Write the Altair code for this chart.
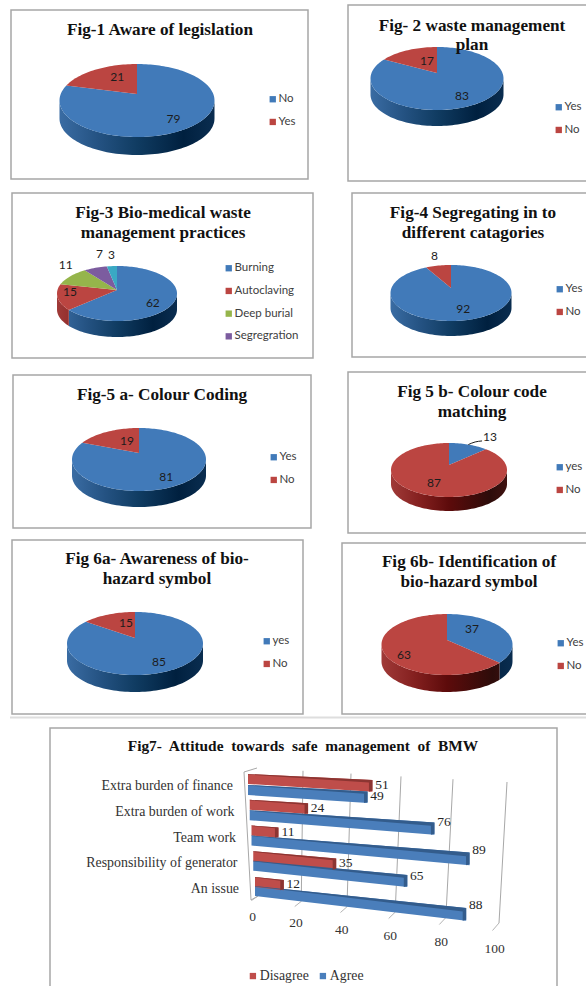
import math
import altair as alt
import pandas as pd

W, H = 586, 986

# ---- survey values ----
FIG1_CATS, FIG1_VALUES = ["No", "Yes"], [79, 21]
FIG2_CATS, FIG2_VALUES = ["Yes", "No"], [83, 17]
FIG3_CATS, FIG3_VALUES = ["Burning", "Autoclaving", "Deep burial", "Segregration", "Other"], [62, 15, 11, 7, 3]
FIG4_CATS, FIG4_VALUES = ["Yes", "No"], [92, 8]
FIG5A_CATS, FIG5A_VALUES = ["Yes", "No"], [81, 19]
FIG5B_CATS, FIG5B_VALUES = ["yes", "No"], [13, 87]
FIG6A_CATS, FIG6A_VALUES = ["yes", "No"], [85, 15]
FIG6B_CATS, FIG6B_VALUES = ["Yes", "No"], [37, 63]

FIG7_CATS = ["Extra burden of finance", "Extra burden of work", "Team work",
             "Responsibility of generator", "An issue"]
FIG7_DISAGREE = [51, 24, 11, 35, 12]
FIG7_AGREE = [49, 76, 89, 65, 88]
FIG7_TICKS = [0, 20, 40, 60, 80, 100]
# pixels per unit along each bar row, which narrows unevenly with the tilt
FIG7_ROW_UNIT = [2.44, 2.43, 2.45, 2.37, 2.40]

BLUE, RED, GREEN, PURPLE, CYAN = "#417ab9", "#bb4541", "#95b54b", "#7c5c9f", "#3aa9c4"
BLUE_WALL = [(0, "#3a6ca3"), (0.25, "#245282"), (0.5, "#103c62"), (0.8, "#00203f"), (1, "#0a2d50")]
RED_WALL = [(0, "#a03a38"), (0.25, "#84201f"), (0.5, "#5d0b0b"), (0.85, "#2d0c0a"), (1, "#401210")]
GREY_TEXT = "#404040"
SERIF = "Liberation Serif"
SANS = "Lato"

X = alt.X("x:Q", scale=alt.Scale(domain=[0, W], nice=False, zero=False), axis=None)
Y = alt.Y("y:Q", scale=alt.Scale(domain=[H, 0], nice=False, zero=False), axis=None)
layers = []


def frame_table():
    rows = [
        (11, 308, 10, 179), (348, 600, 5, 181), (12, 313, 193, 358), (352, 600, 193, 357),
        (13, 311, 375, 528), (348, 600, 372, 533), (12, 303, 540, 714), (342, 600, 543, 714),
        (50, 557, 728, 1000),
    ]
    return pd.DataFrame(rows, columns=["x", "x2", "y", "y2"])


layers.append(
    alt.Chart(pd.DataFrame({"x": [10], "x2": [600], "y": [717.5]}))
    .mark_rule(color="#dedede", strokeWidth=2)
    .encode(x=X, x2="x2:Q", y=Y)
)
layers.append(
    alt.Chart(frame_table())
    .mark_rect(fill="white", stroke="#a6a6a6", strokeWidth=1.5)
    .encode(x=X, x2="x2:Q", y=Y, y2="y2:Q")
)


class PieShape:
    """Tilted pie seen in perspective: a disc projected through a homography."""

    def __init__(self, cx, cy, half_w, top, face_bottom, wall_bottom):
        self.cx, self.cy = cx, cy
        far, near = cy - top, face_bottom - cy
        self.k = (near - far) / (near + far)
        self.b = far * (1 + self.k)
        self.a = half_w * math.sqrt(1 - self.k ** 2)
        self.half_w = half_w
        self.depth = wall_bottom - face_bottom

    def at(self, deg, r=1.0):
        t = math.radians(deg)
        u, v = r * math.sin(t), r * math.cos(t)
        w = 1 + self.k * v
        return self.cx + self.a * u / w, self.cy - self.b * v / w


def wedge_rows(shape, cats, values):
    rows, start = [], 0.0
    total = sum(values)
    for cat, val in zip(cats, values):
        end = start + 360 * val / total
        steps = max(2, int((end - start) / 2))
        outline = [(shape.cx, shape.cy)]
        outline += [shape.at(start + (end - start) * i / steps) for i in range(steps + 1)]
        for n, (px, py) in enumerate(outline):
            rows.append({"cat": cat, "n": n, "x": px, "y": py})
        start = end
    return pd.DataFrame(rows)


def wall_layers(shape, values, wall_colours):
    out = []
    limit = math.degrees(math.acos(-shape.k))
    start, total = 0.0, sum(values)
    left, right = shape.cx - shape.half_w, shape.cx + shape.half_w
    for val, stops in zip(values, wall_colours):
        end = start + 360 * val / total
        a0, a1 = max(start, limit), min(end, 360 - limit)
        if a1 > a0:
            steps = max(2, int((a1 - a0) / 2))
            rim = [shape.at(a0 + (a1 - a0) * i / steps) for i in range(steps + 1)]
            pts = rim + [(px, py + shape.depth) for px, py in reversed(rim)]
            xs = [p[0] for p in pts]
            lo, hi = min(xs), max(xs)
            grad = alt.Gradient(
                gradient="linear",
                x1=(left - lo) / (hi - lo), x2=(right - lo) / (hi - lo), y1=0, y2=0,
                stops=[alt.GradientStop(offset=o, color=c) for o, c in stops],
            )
            df = pd.DataFrame({"x": xs, "y": [p[1] for p in pts], "n": range(len(pts))})
            out.append(
                alt.Chart(df).mark_line(fill=grad, stroke="transparent", strokeWidth=0)
                .encode(x=X, y=Y, order="n:Q")
            )
        start = end
    return out


def add_pie(shape, cats, values, colours, walls, legend_x, legend_y, radial, nudges, rows=None):
    layers.extend(wall_layers(shape, values, walls))
    shown = rows if rows is not None else cats
    legend = alt.Legend(
        title=None, orient="none", legendX=legend_x, legendY=legend_y, symbolType="square",
        symbolSize=40, labelFont=SANS, labelFontSize=11.5, labelColor=GREY_TEXT,
        rowPadding=9.7, padding=0, values=shown, labelLimit=120, labelOffset=0,
    )
    layers.append(
        alt.Chart(wedge_rows(shape, cats, values))
        .mark_line(filled=True, strokeWidth=0)
        .encode(
            x=X, y=Y, order="n:Q",
            color=alt.Color("cat:N", scale=alt.Scale(domain=cats, range=colours), legend=legend),
        )
    )
    label_rows, start, total = [], 0.0, sum(values)
    for val, r, (dx, dy) in zip(values, radial, nudges):
        mid = start + 180 * val / total
        px, py = shape.at(mid, r)
        label_rows.append({"x": px + dx, "y": py + dy, "label": str(val)})
        start += 360 * val / total
    layers.append(
        alt.Chart(pd.DataFrame(label_rows))
        .mark_text(font=SANS, fontSize=12, color="#1c1c1c", baseline="middle", align="center")
        .encode(x=X, y=Y, text="label:N")
    )
    return label_rows


add_pie(PieShape(137, 94, 77.5, 64, 137, 155), FIG1_CATS, FIG1_VALUES, [BLUE, RED], [BLUE_WALL, RED_WALL],
        267, 93.5, [0.67, 0.6], [(2, 4.4), (6, -1.6)])
add_pie(PieShape(437, 73, 66.5, 47, 110, 126), FIG2_CATS, FIG2_VALUES, [BLUE, RED], [BLUE_WALL, RED_WALL],
        553, 101.5, [0.7, 0.45], [(-1, 2), (4, -1)])
add_pie(PieShape(117, 290, 60, 266, 321, 337), FIG3_CATS, FIG3_VALUES,
        [BLUE, RED, GREEN, PURPLE, CYAN], [BLUE_WALL, RED_WALL, RED_WALL, RED_WALL, RED_WALL],
        223, 262.5, [0.62, 0.78, 1.2, 1.0, 1.5], [(1, 6), (-1, -3.4), (4, -9), (4, -14), (1.7, -1)],
        rows=FIG3_CATS[:4])
add_pie(PieShape(451, 288, 60.5, 265, 321, 336), FIG4_CATS, FIG4_VALUES, [BLUE, RED], [BLUE_WALL, RED_WALL],
        554, 283.5, [0.67, 1.5], [(1, 1), (1, -1)])
add_pie(PieShape(139, 453, 67, 428, 491, 507), FIG5A_CATS, FIG5A_VALUES, [BLUE, RED], [BLUE_WALL, RED_WALL],
        268, 451.5, [0.7, 0.5], [(-2, 4), (5, -1)])
placed = add_pie(PieShape(449, 465, 58, 443, 497, 511), FIG5B_CATS, FIG5B_VALUES, [BLUE, RED], [BLUE_WALL, RED_WALL],
                 554, 461.5, [1.0, 0.6], [(21.7, -7.6), (0, 2)])
add_pie(PieShape(135, 638, 68, 612, 675, 692), FIG6A_CATS, FIG6A_VALUES, [BLUE, RED], [BLUE_WALL, RED_WALL],
        261, 635.5, [0.7, 0.5], [(0, 3), (5, -2)])
add_pie(PieShape(447, 640, 65.5, 614, 675, 692), FIG6B_CATS, FIG6B_VALUES, [BLUE, RED], [BLUE_WALL, RED_WALL],
        555, 637.5, [0.45, 0.68], [(-1, -6), (-1, 6.6)])

# leader from the small Fig 5b slice to its number
rim_x, rim_y = PieShape(449, 465, 58, 443, 497, 511).at(180 * 13 / 100)
lab_x, lab_y = placed[0]["x"], placed[0]["y"]
layers.append(
    alt.Chart(pd.DataFrame({
        "x": [rim_x, (rim_x + lab_x - 8) / 2, lab_x - 8],
        "y": [rim_y, lab_y + 5, lab_y + 4], "n": [0, 1, 2]}))
    .mark_line(color="#1c1c1c", strokeWidth=1, interpolate="monotone")
    .encode(x=X, y=Y, order="n:Q")
)

# ---- headings, drawn above the pies ----
TITLE_LINES = [
    ("Fig-1 Aware of legislation", 160, 35),
    ("Fig- 2 waste management", 472, 31), ("plan", 472, 50),
    ("Fig-3 Bio-medical waste", 163, 218), ("management practices", 163, 238),
    ("Fig-4 Segregating in to", 473, 218), ("different catagories", 473, 238),
    ("Fig-5 a- Colour Coding", 162, 400),
    ("Fig 5 b- Colour code", 472, 397), ("matching", 472, 417),
    ("Fig 6a- Awareness of bio-", 157, 564), ("hazard symbol", 157, 584),
    ("Fig 6b- Identification of", 469, 567), ("bio-hazard symbol", 469, 587),
]
layers.append(
    alt.Chart(pd.DataFrame(TITLE_LINES, columns=["label", "x", "y"]))
    .mark_text(font=SERIF, fontSize=17.2, fontWeight="bold", color="#111111", align="center", baseline="alphabetic")
    .encode(x=X, y=Y, text="label:N")
)
layers.append(
    alt.Chart(pd.DataFrame({"label": ["Fig7-\u00a0 Attitude\u00a0 towards\u00a0 safe\u00a0 management\u00a0 of\u00a0 BMW"],
                            "x": [303], "y": [751]}))
    .mark_text(font=SERIF, fontSize=15.4, fontWeight="bold", color="#111111", align="center", baseline="alphabetic")
    .encode(x=X, y=Y, text="label:N")
)


# ---- Fig 7: tilted 3-D bars ----
def wall_top(v):
    return 257 + 2.25 * v + 0.0025 * v * v, 768 + 0.14 * v


def wall_floor(v):
    return 258 + 2.1 * v + 0.0031 * v * v, 896 + 0.27 * v


grid_rows, tick_rows, tick_labels = [], [], []
for i, v in enumerate(FIG7_TICKS):
    tx, ty = wall_top(v)
    fx, fy = wall_floor(v)
    if v > 0:
        grid_rows += [{"g": i, "n": 0, "x": tx, "y": ty}, {"g": i, "n": 1, "x": fx, "y": fy}]
    tick_rows += [{"g": i, "n": 0, "x": fx, "y": fy}, {"g": i, "n": 1, "x": fx - 6.5, "y": fy + 4.5 + 0.03 * v}]
    tick_labels.append({"x": fx - 5.5 + 0.01 * v, "y": fy + 21 + 0.045 * v, "label": str(v)})
# left wall edge with its top and floor returns
grid_rows += [
    {"g": 10, "n": 0, "x": wall_top(0)[0], "y": wall_top(0)[1]},
    {"g": 10, "n": 1, "x": wall_top(0)[0] - 13, "y": wall_top(0)[1] + 4},
    {"g": 10, "n": 2, "x": wall_floor(0)[0] - 7, "y": wall_floor(0)[1] + 4},
    {"g": 10, "n": 3, "x": wall_floor(0)[0], "y": wall_floor(0)[1]},
]
layers.append(
    alt.Chart(pd.DataFrame(grid_rows)).mark_line(color="#a8a8a8", strokeWidth=1)
    .encode(x=X, y=Y, order="n:Q", detail="g:N")
)
layers.append(
    alt.Chart(pd.DataFrame(tick_rows)).mark_line(color="#b4b4b4", strokeWidth=1)
    .encode(x=X, y=Y, order="n:Q", detail="g:N")
)
layers.append(
    alt.Chart(pd.DataFrame(tick_labels))
    .mark_text(font=SERIF, fontSize=13.5, color="#333333", baseline="middle", align="center")
    .encode(x=X, y=Y, text="label:N")
)


def bar_origin(row, series):
    base = 785 + 25.25 * row if series == "Agree" else 774 + 25.75 * row
    return 248 + 1.75 * row, base


def bar_tip(row, series, v):
    x0, y0 = bar_origin(row, series)
    slope = 0.12 + (y0 - 774) / 112 * 0.13
    return x0 + v * FIG7_ROW_UNIT[row], y0 + v * slope


front_rows, shade_rows, value_rows = [], [], []
for series, vals in (("Agree", FIG7_AGREE), ("Disagree", FIG7_DISAGREE)):
    for row, v in enumerate(vals):
        x0, y0 = bar_origin(row, series)
        xv, yv = bar_tip(row, series, v)
        tip_h = 10 + v * 0.03
        strip = v * 0.035
        key = f"{series}{row}"
        face = [(x0, y0), (xv, yv), (xv, yv + tip_h), (x0, y0 + 10)]
        front_rows += [{"series": series, "bar": key, "n": n, "x": p[0], "y": p[1]} for n, p in enumerate(face)]
        top = [(x0, y0), (xv, yv), (xv - 3.5, yv + strip + 0.5), (x0, y0 + 0.6)]
        cap = [(xv - 3.5, yv + strip), (xv, yv), (xv, yv + tip_h - 1), (xv - 3.5, yv + tip_h)]
        shade_rows += [{"series": series, "bar": key + "t", "n": n, "x": p[0], "y": p[1]} for n, p in enumerate(top)]
        shade_rows += [{"series": series, "bar": key + "c", "n": n, "x": p[0], "y": p[1]} for n, p in enumerate(cap)]
        lift = 4.5 if v <= 51 else -(v - 70) * 0.15
        value_rows.append({"x": xv + 9.5, "y": yv + lift, "label": str(v)})

layers.append(
    alt.Chart(pd.DataFrame(front_rows))
    .mark_line(filled=True, strokeWidth=0)
    .encode(
        x=X, y=Y, order="n:Q", detail="bar:N",
        color=alt.Color(
            "series:N",
            scale=alt.Scale(domain=["Disagree", "Agree"], range=["#bf4d4a", "#4a7ebb"]),
            legend=alt.Legend(
                title=None, orient="none", legendX=246, legendY=969, direction="horizontal", columns=2,
                symbolType="square", symbolSize=40, labelFont=SERIF, labelFontSize=13.8, labelColor="#333333",
                columnPadding=7, padding=0, labelOffset=0,
            ),
        ),
    )
)
layers.append(
    alt.Chart(pd.DataFrame(shade_rows))
    .mark_line(filled=True, strokeWidth=0)
    .encode(
        x=X, y=Y, order="n:Q", detail="bar:N",
        color=alt.Color("series:N", scale=alt.Scale(domain=["Disagree", "Agree"], range=["#8c3532", "#335c8c"]), legend=None),
    )
)
layers.append(
    alt.Chart(pd.DataFrame(value_rows))
    .mark_text(font=SERIF, fontSize=13.5, color="#262626", baseline="middle", align="center")
    .encode(x=X, y=Y, text="label:N")
)
cat_rows = [{"x": 233 + 1.5 * i, "y": 786 + 25.75 * i, "label": c} for i, c in enumerate(FIG7_CATS)]
layers.append(
    alt.Chart(pd.DataFrame(cat_rows))
    .mark_text(font=SERIF, fontSize=13.9, color="#333333", baseline="middle", align="right")
    .encode(x=X, y=Y, text="label:N")
)

chart = (
    alt.layer(*layers)
    .resolve_scale(color="independent")
    .properties(width=W, height=H, padding=0, autosize=alt.AutoSizeParams(type="none"))
    .configure_view(stroke=None)
)

chart.save("out.html", embed_options={"renderer": "svg", "actions": False})
